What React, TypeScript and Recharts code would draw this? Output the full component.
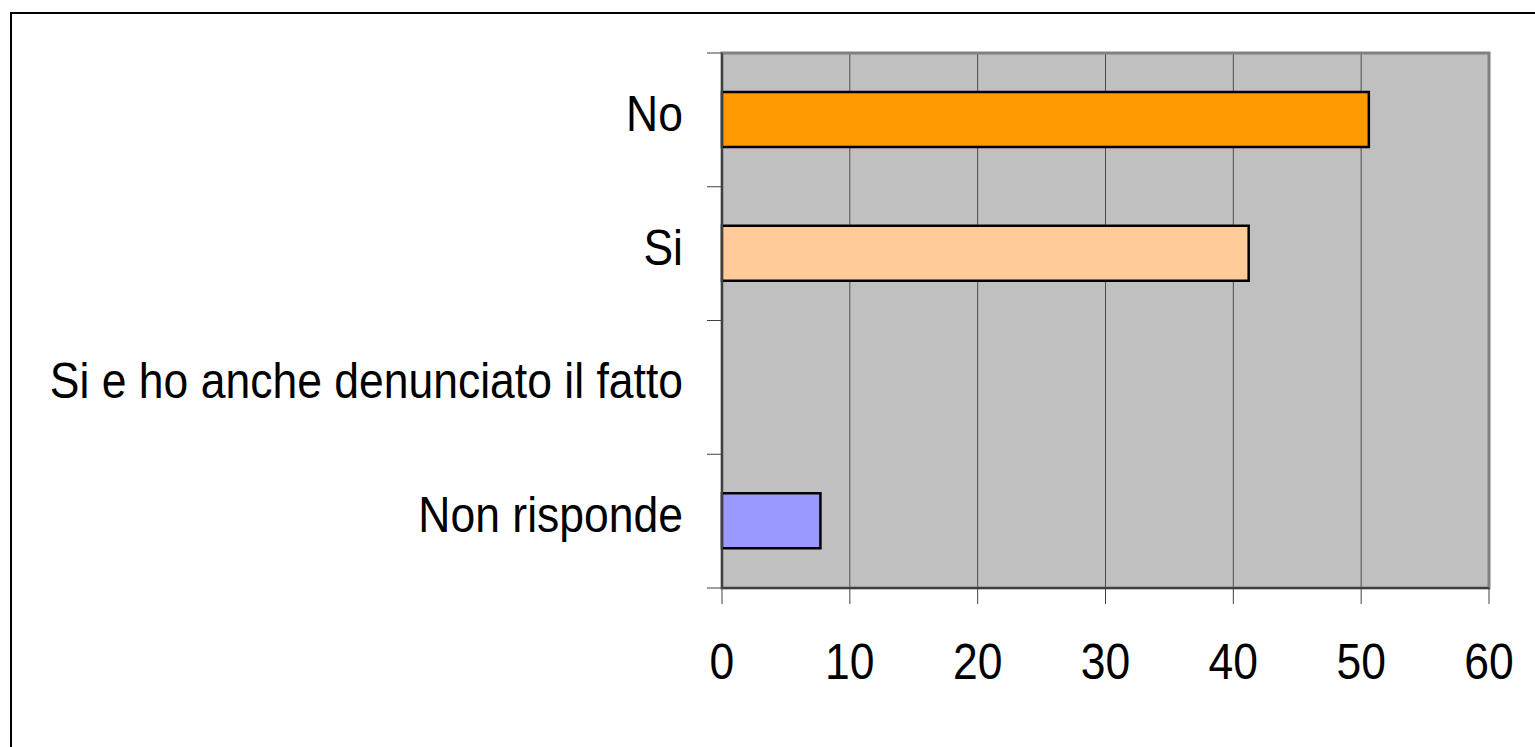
import { BarChart, Bar, XAxis, YAxis, CartesianGrid, Cell, ReferenceArea } from "recharts";

const categories = ["No", "Si", "Si e ho anche denunciato il fatto", "Non risponde"];
const values = [50.6, 41.2, 0, 7.7];
const barColors = ["#ff9900", "#ffcc99", "#ccffff", "#9999ff"];
const xTicks = [0, 10, 20, 30, 40, 50, 60];

const data = categories.map((name, i) => ({ name, value: values[i] }));

const FONT = "'Liberation Sans', Arial, sans-serif";
const W = 1535;
const H = 747;
const MARGIN = { top: 53, right: 46, bottom: 99, left: 0 };
const X_AXIS_H = 60;
const PLOT_H = H - MARGIN.top - MARGIN.bottom - X_AXIS_H;
const BAND = PLOT_H / categories.length;

// category label plus the tick marks that sit on the band edges
function CategoryTick(props: any) {
  const { x, y, payload, index } = props;
  const top = y - BAND / 2;
  const bottom = y + BAND / 2;
  return (
    <g>
      <line x1={x - 15} x2={x} y1={top} y2={top} stroke="#404040" />
      {index === categories.length - 1 && (
        <line x1={x - 15} x2={x} y1={bottom} y2={bottom} stroke="#404040" />
      )}
      <text
        transform={`translate(${x - 39},${y + 11}) scale(1,1.12)`}
        textAnchor="end"
        fontFamily={FONT}
        fontSize={44.5}
        fill="#000"
      >
        {payload.value}
      </text>
    </g>
  );
}

function ValueTick(props: any) {
  const { x, y, payload } = props;
  return (
    <text
      transform={`translate(${x},${y + 73}) scale(1,1.12)`}
      textAnchor="middle"
      fontFamily={FONT}
      fontSize={44.5}
      fill="#000"
    >
      {payload.value}
    </text>
  );
}

export default function App() {
  return (
    <div style={{ position: "relative", width: W, height: H, overflow: "hidden", background: "#fff" }}>
      <style>{"body{margin:0}"}</style>
      <div
        style={{
          position: "absolute",
          left: 10,
          top: 12,
          width: 1600,
          height: 800,
          borderLeft: "2px solid #000",
          borderTop: "2px solid #000",
        }}
      />
      <div style={{ position: "absolute", left: 0, top: 0 }}>
        <BarChart
          width={W}
          height={H}
          data={data}
          layout="vertical"
          margin={MARGIN}
          barSize={55}
        >
          <CartesianGrid horizontal={false} stroke="#404040" strokeOpacity={0.9} fill="#c0c0c0" fillOpacity={1} />
          <ReferenceArea x1={0} x2={60} fill="none" stroke="#808080" strokeWidth={3} ifOverflow="visible" />
          <XAxis
            type="number"
            domain={[0, 60]}
            ticks={xTicks}
            interval={0}
            height={X_AXIS_H}
            axisLine={{ stroke: "#404040", strokeWidth: 2 }}
            tickLine={{ stroke: "#404040" }}
            tickSize={16}
            tick={<ValueTick />}
          />
          <YAxis
            type="category"
            dataKey="name"
            width={722}
            axisLine={{ stroke: "#404040", strokeWidth: 2 }}
            tickLine={false}
            tickSize={0}
            tickMargin={0}
            interval={0}
            tick={<CategoryTick />}
          />
          <Bar dataKey="value" stroke="#000" strokeWidth={2.5} isAnimationActive={false}>
            {data.map((d, i) => (
              <Cell key={d.name} fill={barColors[i]} />
            ))}
          </Bar>
        </BarChart>
      </div>
    </div>
  );
}
